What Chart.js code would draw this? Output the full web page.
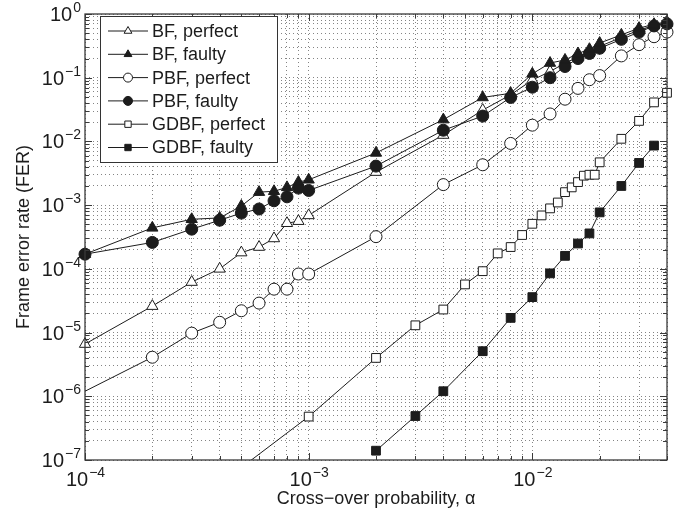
<!DOCTYPE html>
<html>
<head>
<meta charset="utf-8">
<script src="https://cdn.jsdelivr.net/npm/chart.js@4.4.1/dist/chart.umd.min.js"></script>
<style>
  html, body { margin: 0; padding: 0; background: #fff; }
  canvas { display: block; }
</style>
</head>
<body>
<canvas id="fer" width="684" height="516"></canvas>
<script>
// --- data ---
const xBF = [1e-4, 2e-4, 3e-4, 4e-4, 5e-4, 6e-4, 7e-4, 8e-4, 9e-4, 1e-3,
             2e-3, 4e-3, 6e-3, 8e-3, 1e-2, 1.2e-2, 1.4e-2, 1.6e-2, 1.8e-2, 2e-2,
             2.5e-2, 3e-2, 3.5e-2, 4e-2];
const bfPerfect = [6.6e-6, 2.6e-5, 6.2e-5, 1.0e-4, 1.8e-4, 2.2e-4, 3.0e-4, 5.2e-4, 5.6e-4, 6.9e-4,
                   3.3e-3, 1.26e-2, 3.1e-2, 5.4e-2, 9.2e-2, 0.125, 0.17, 0.21, 0.26, 0.31,
                   0.43, 0.56, 0.66, 0.72];
const bfFaulty = [1.7e-4, 4.4e-4, 6.0e-4, 6.3e-4, 9.7e-4, 1.6e-3, 1.65e-3, 1.9e-3, 2.3e-3, 2.5e-3,
                  6.6e-3, 2.2e-2, 4.9e-2, 5.7e-2, 0.115, 0.17, 0.19, 0.24, 0.28, 0.35,
                  0.47, 0.6, 0.69, 0.75];
const pbfPerfect = [1.2e-6, 4.1e-6, 9.8e-6, 1.45e-5, 2.2e-5, 2.9e-5, 4.8e-5, 4.8e-5, 8.3e-5, 8.3e-5,
                    3.2e-4, 2.1e-3, 4.3e-3, 9.3e-3, 1.8e-2, 2.7e-2, 4.6e-2, 6.8e-2, 9.3e-2, 0.108,
                    0.22, 0.33, 0.44, 0.52];
const pbfFaulty = [1.7e-4, 2.6e-4, 4.2e-4, 5.8e-4, 7.5e-4, 8.7e-4, 1.17e-3, 1.35e-3, 1.85e-3, 1.7e-3,
                   4.1e-3, 1.5e-2, 2.5e-2, 4.9e-2, 7.1e-2, 0.10, 0.15, 0.20, 0.24, 0.29,
                   0.40, 0.52, 0.65, 0.70];
const xGDBFp = [5e-4, 1e-3, 2e-3, 3e-3, 4e-3, 5e-3, 6e-3, 7e-3, 8e-3, 9e-3,
                1e-2, 1.1e-2, 1.2e-2, 1.3e-2, 1.4e-2, 1.5e-2, 1.6e-2, 1.7e-2, 1.8e-2, 1.9e-2,
                2e-2, 2.5e-2, 3e-2, 3.5e-2, 4e-2];
const gdbfPerfect = [7.6e-8, 4.8e-7, 4.0e-6, 1.3e-5, 2.3e-5, 5.7e-5, 9.2e-5, 1.75e-4, 2.2e-4, 3.4e-4,
                     5.1e-4, 6.9e-4, 8.9e-4, 1.1e-3, 1.6e-3, 1.9e-3, 2.3e-3, 2.9e-3, 3.0e-3, 3.0e-3,
                     4.7e-3, 1.1e-2, 2.1e-2, 4.1e-2, 5.8e-2];
const xGDBFf = [2e-3, 3e-3, 4e-3, 6e-3, 8e-3, 1e-2, 1.2e-2, 1.4e-2, 1.6e-2, 1.8e-2,
                2e-2, 2.5e-2, 3e-2, 3.5e-2];
const gdbfFaulty = [1.4e-7, 4.9e-7, 1.2e-6, 5.1e-6, 1.7e-5, 3.6e-5, 8.5e-5, 1.6e-4, 2.5e-4, 3.6e-4,
                    7.7e-4, 2.0e-3, 4.6e-3, 8.6e-3];

const seriesNames = ['BF, perfect', 'BF, faulty', 'PBF, perfect', 'PBF, faulty', 'GDBF, perfect', 'GDBF, faulty'];
const xTickExps = [-4, -3, -2];
const yTickExps = [-7, -6, -5, -4, -3, -2, -1, 0];
const xTitle = 'Cross\u2212over probability, \u03b1';
const yTitle = 'Frame error rate (FER)';

const X_MIN = 1e-4, X_MAX = 4e-2, Y_MIN = 1e-7, Y_MAX = 1;
const INK = '#1c1c1c';
const FONT = '"Liberation Sans", Arial, Helvetica, sans-serif';

const pts = (xs, ys) => xs.map((x, i) => ({ x, y: ys[i] }));

const mk = (label, xs, ys, style, filled, radius, order, extra) => Object.assign({
    label, data: pts(xs, ys), order,
    borderColor: INK, borderWidth: 1,
    pointStyle: style, pointRadius: radius, pointBorderWidth: 1,
    pointBorderColor: INK, pointBackgroundColor: filled ? INK : '#fff',
    fill: false, tension: 0,
    clip: { left: 8, top: 8, right: 8, bottom: 0 }
}, extra || {});

// the PBF perfect line comes in from the left edge without a marker
const noFirst = (r) => (ctx) => ctx.dataIndex === 0 ? 0 : r;

const datasets = [
    mk(seriesNames[0], xBF, bfPerfect, 'triangle', false, 6.5, 3),
    mk(seriesNames[1], xBF, bfFaulty, 'triangle', true, 6.5, 1),
    mk(seriesNames[2], xBF, pbfPerfect, 'circle', false, 6, 4, { pointRadius: noFirst(6) }),
    mk(seriesNames[3], xBF, pbfFaulty, 'circle', true, 6, 2),
    mk(seriesNames[4], xGDBFp, gdbfPerfect, 'rect', false, 6.2, 5),
    mk(seriesNames[5], xGDBFf, gdbfFaulty, 'rect', true, 6.2, 6)
];

const isDecade = (v) => Math.abs(Math.log10(v) - Math.round(Math.log10(v))) < 1e-6;

// 1..9 x 10^n grid between min and max
const logTicks = (scale) => {
    const out = [];
    const lo = Math.floor(Math.log10(scale.min)), hi = Math.ceil(Math.log10(scale.max));
    for (let e = lo; e <= hi; e++) {
        for (let m = 1; m <= 9; m++) {
            const v = Number((m * Math.pow(10, e)).toPrecision(6));
            if (v >= scale.min * 0.999999 && v <= scale.max * 1.000001) out.push({ value: v });
        }
    }
    scale.ticks = out;
};

const power = (ctx, exp, x, y, align) => {
    const base = '10', sup = (exp < 0 ? '\u2212' : '') + Math.abs(exp);
    ctx.font = '20px ' + FONT;
    const wb = ctx.measureText(base).width;
    ctx.font = '14px ' + FONT;
    const ws = ctx.measureText(sup).width;
    const left = align === 'right' ? x - wb - ws : x - (wb + ws) / 2;
    ctx.textAlign = 'left';
    ctx.textBaseline = 'alphabetic';
    ctx.font = '20px ' + FONT;
    ctx.fillText(base, left, y);
    ctx.font = '14px ' + FONT;
    ctx.fillText(sup, left + wb + 1, y - 9);
};

const frame = {
    id: 'frame',
    afterDatasetsDraw(chart) {
        const { ctx, chartArea: a, scales: { x, y } } = chart;
        ctx.save();
        ctx.strokeStyle = '#3a3a3a';
        ctx.lineWidth = 1;
        ctx.beginPath();
        x.ticks.forEach(t => {
            const px = Math.round(x.getPixelForValue(t.value)) + 0.5;
            const len = isDecade(t.value) ? 7 : 4;
            ctx.moveTo(px, a.bottom); ctx.lineTo(px, a.bottom - len);
            ctx.moveTo(px, a.top); ctx.lineTo(px, a.top + len);
        });
        y.ticks.forEach(t => {
            const py = Math.round(y.getPixelForValue(t.value)) + 0.5;
            const len = isDecade(t.value) ? 7 : 4;
            ctx.moveTo(a.left, py); ctx.lineTo(a.left + len, py);
            ctx.moveTo(a.right, py); ctx.lineTo(a.right - len, py);
        });
        ctx.stroke();
        ctx.lineWidth = 1.3;
        ctx.strokeRect(a.left, a.top, a.right - a.left, a.bottom - a.top);

        // tick labels
        ctx.fillStyle = INK;
        xTickExps.forEach(e => power(ctx, e, x.getPixelForValue(Math.pow(10, e)), a.bottom + 26, 'center'));
        yTickExps.forEach(e => power(ctx, e, a.left - 5, y.getPixelForValue(Math.pow(10, e)) + 7, 'right'));

        // axis titles
        ctx.font = '18px ' + FONT;
        ctx.textAlign = 'center';
        ctx.textBaseline = 'middle';
        ctx.fillText(xTitle, (a.left + a.right) / 2, 499);
        ctx.save();
        ctx.translate(24, (a.top + a.bottom) / 2);
        ctx.rotate(-Math.PI / 2);
        ctx.fillText(yTitle, 0, 0);
        ctx.restore();

        // legend box inside the plot, top left
        const bx = 100, by = 16, bw = 177, bh = 146, rowH = 23.3;
        ctx.fillStyle = '#fff';
        ctx.fillRect(bx, by, bw, bh);
        ctx.lineWidth = 1;
        ctx.strokeStyle = '#333';
        ctx.strokeRect(bx + 0.5, by + 0.5, bw, bh);
        datasets.forEach((ds, i) => {
            const ry = by + 15 + i * rowH;
            ctx.strokeStyle = INK;
            ctx.lineWidth = 1;
            ctx.beginPath();
            ctx.moveTo(108, ry); ctx.lineTo(148, ry);
            ctx.stroke();
            ctx.fillStyle = ds.pointBackgroundColor;
            Chart.helpers.drawPoint(ctx, { pointStyle: ds.pointStyle, radius: 4.5, rotation: 0, borderWidth: 1 }, 128, ry);
            ctx.fillStyle = INK;
            ctx.font = '18px ' + FONT;
            ctx.textAlign = 'left';
            ctx.textBaseline = 'middle';
            ctx.fillText(ds.label, 152, ry + 1);
        });
        ctx.restore();
    }
};

const gridOpts = { color: 'rgba(50,50,50,0.6)', lineWidth: 1, drawTicks: false };

new Chart(document.getElementById('fer'), {
    type: 'line',
    data: { datasets },
    options: {
        responsive: false,
        animation: false,
        devicePixelRatio: 1,
        layout: { padding: { left: 0, right: 17, top: 14, bottom: 0 } },
        plugins: { legend: { display: false }, tooltip: { enabled: false } },
        scales: {
            x: {
                type: 'logarithmic', min: X_MIN, max: X_MAX,
                afterBuildTicks: logTicks,
                afterFit: (s) => { s.height = 56; },
                ticks: { display: false },
                border: { display: false, dash: [1, 3] },
                grid: gridOpts
            },
            y: {
                type: 'logarithmic', min: Y_MIN, max: Y_MAX,
                afterBuildTicks: logTicks,
                afterFit: (s) => { s.width = 85; },
                ticks: { display: false },
                border: { display: false, dash: [1, 3] },
                grid: gridOpts
            }
        }
    },
    plugins: [frame]
});
</script>
</body>
</html>
